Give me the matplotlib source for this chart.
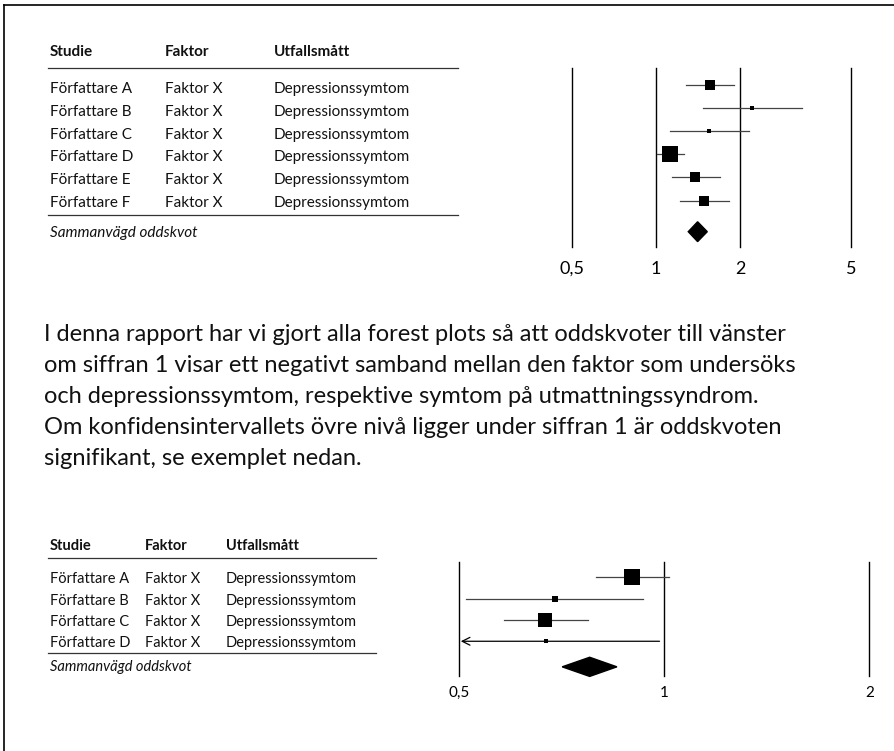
import numpy as np
import matplotlib as mpl
mpl.use('Agg')
import matplotlib.pyplot as plt
from matplotlib.patches import Polygon

W, H = 895, 751
plt.rcParams['font.family'] = ['Lato', 'DejaVu Sans']

# upper example: all studies on the right side of 1
studies_top = ['Författare A', 'Författare B', 'Författare C',
               'Författare D', 'Författare E', 'Författare F']
or_top = [1.56, 2.21, 1.55, 1.12, 1.38, 1.49]
lo_top = [1.28, 1.47, 1.12, 1.006, 1.14, 1.22]
hi_top = [1.90, 3.35, 2.15, 1.26, 1.70, 1.82]
weight_top = [15, 3, 4, 48, 15, 15]
pooled_top = (1.41, 1.305, 1.527)
ticks_top = [0.5, 1, 2, 5]
ticklabels_top = ['0,5', '1', '2', '5']

# lower example: significant on the left side of 1
studies_bot = ['Författare A', 'Författare B', 'Författare C', 'Författare D']
or_bot = [0.898, 0.690, 0.669, 0.670]
lo_bot = [0.793, 0.511, 0.581, 0.45]
hi_bot = [1.016, 0.932, 0.772, 0.984]
weight_bot = [51, 7, 38, 4]
pooled_bot = (0.777, 0.708, 0.852)
ticks_bot = [0.5, 1, 2]
ticklabels_bot = ['0,5', '1', '2']

factor = 'Faktor X'
outcome = 'Depressionssymtom'
headers = ['Studie', 'Faktor', 'Utfallsmått']
pooled_label = 'Sammanvägd oddskvot'

paragraph = [
    'I denna rapport har vi gjort alla forest plots så att oddskvoter till vänster',
    'om siffran 1 visar ett negativt samband mellan den faktor som undersöks',
    'och depressionssymtom, respektive symtom på utmattningssyndrom.',
    'Om konfidensintervallets övre nivå ligger under siffran 1 är oddskvoten',
    'signifikant, se exemplet nedan.',
]

fig = plt.figure(figsize=(W / 100, H / 100), dpi=100)


def fx(x):
    return x / W


def fy(y):
    return 1 - y / H


def px_axes(x0, y0, x1, y1):
    return fig.add_axes([fx(x0), fy(y1), (x1 - x0) / W, (y1 - y0) / H])


# frame (only top and left edge visible)
fig.add_artist(plt.Line2D([fx(4), fx(4)], [fy(5), 0], color='black', lw=1.2))
fig.add_artist(plt.Line2D([fx(4), 1], [fy(5), fy(5)], color='black', lw=1.2))


def draw_table(cols_x, header_y, line_y, row_y0, row_dy, studies, foot_y, line2_y,
               x0, x1, size):
    for hx, h in zip(cols_x, headers):
        fig.text(fx(hx), fy(header_y), h, fontsize=size, fontweight='bold',
                 va='baseline', color='#111')
    fig.add_artist(plt.Line2D([fx(x0), fx(x1)], [fy(line_y)] * 2, color='#333', lw=0.9))
    for i, s in enumerate(studies):
        y = fy(row_y0 + i * row_dy)
        fig.text(fx(cols_x[0]), y, s, fontsize=size, va='baseline', color='#111')
        fig.text(fx(cols_x[1]), y, factor, fontsize=size, va='baseline', color='#111')
        fig.text(fx(cols_x[2]), y, outcome, fontsize=size, va='baseline', color='#111')
    fig.add_artist(plt.Line2D([fx(x0), fx(x1)], [fy(line2_y)] * 2, color='#333', lw=0.9))
    fig.text(fx(cols_x[0]), fy(foot_y), pooled_label, fontsize=size, style='italic',
             va='baseline', color='#111')


def draw_forest(ax, est, lo, hi, weight, pooled, pooled_y, half_h, xlim, ticks, labels,
                tick_size, label_pad):
    ax.set_xscale('log')
    ax.set_xlim(*xlim)
    n = len(est)
    ax.set_ylim(ax.get_ylim())
    for t in ticks:
        ax.axvline(t, color='black', lw=1.0, clip_on=False)
    for i in range(n):
        left = max(lo[i], xlim[0] * 1.005)
        if lo[i] < xlim[0]:
            ax.annotate('', xy=(left, i), xytext=(hi[i], i),
                        arrowprops=dict(arrowstyle='->', color='black', lw=0.9,
                                        mutation_scale=14, shrinkA=0, shrinkB=0),
                        annotation_clip=False)
        else:
            ax.plot([left, hi[i]], [i, i], color='#444', lw=0.9, clip_on=False)
        side = 2.35 * np.sqrt(weight[i]) * 0.72
        ax.plot(est[i], i, 's', color='black', markersize=side, mew=0, clip_on=False)
    p, plo, phi = pooled
    ax.add_patch(Polygon([(plo, pooled_y), (p, pooled_y - half_h), (phi, pooled_y),
                          (p, pooled_y + half_h)], closed=True, color='black',
                         clip_on=False))
    ax.set_xticks(ticks)
    ax.set_xticklabels(labels)
    ax.minorticks_off()
    ax.tick_params(axis='x', length=0, labelsize=tick_size, pad=label_pad)
    ax.set_yticks([])
    for sp in ax.spines.values():
        sp.set_visible(False)
    ax.patch.set_alpha(0)


# upper table and forest plot
draw_table([50, 165, 274], 56.5, 67.7, 93.3, 22.7, studies_top, 237, 215,
           48, 458, 11)
ax1 = px_axes(572, 67.7, 851, 246.7)
ax1.set_ylim(7.0, -0.75)
draw_forest(ax1, or_top, lo_top, hi_top, weight_top, pooled_top, 6.35, 0.43,
            (0.5, 5), ticks_top, ticklabels_top, 13, 10)

# paragraph
for i, line in enumerate(paragraph):
    fig.text(fx(44), fy(341 + i * 31), line, fontsize=17, va='baseline', color='#111')

# lower table and forest plot
draw_table([50, 145, 226], 550, 558, 583.3, 21.3, studies_bot, 671, 653,
           48, 376, 10.5)
ax2 = px_axes(459.3, 562, 869.3, 676)
ax2.set_ylim(4.63, -0.72)
draw_forest(ax2, or_bot, lo_bot, hi_bot, weight_bot, pooled_bot, 4.2, 0.45,
            (0.5, 2), ticks_bot, ticklabels_bot, 11, 7)

fig.savefig('out.png', dpi=100)
